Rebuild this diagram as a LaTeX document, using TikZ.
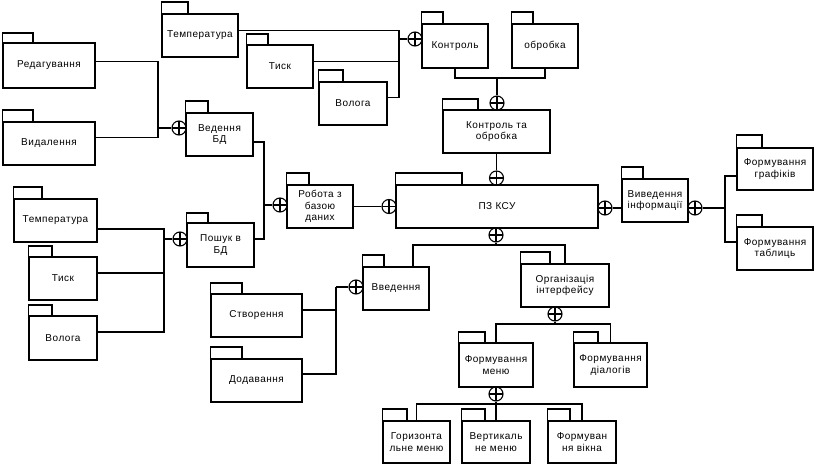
\documentclass[tikz,border=0pt]{standalone}
\usepackage{fontspec}
\setmainfont[LetterSpace=5]{Liberation Sans}
\newcommand\pkgbox[8]{%
  \node[pkg, minimum width={#4-#2}, minimum height={#5-#3}] (#1) at ({(#2+#4)/2},{(#3+#5)/2}) {#8};
  \draw (#1.north west) rectangle (#6,#7);}
\begin{document}
\begin{tikzpicture}[x=1pt,y=-1pt, line width=1.5pt,
  pkg/.style={draw, inner sep=0pt, align=center, font=\fontsize{10}{11.5}\selectfont},
  junc/.style={draw, circle, minimum size=14pt, inner sep=0pt, line width=1.1pt,
    path picture={\draw[line width=1.1pt] (path picture bounding box.north) -- (path picture bounding box.south)
      (path picture bounding box.west) -- (path picture bounding box.east);}}]
\useasboundingbox (0,0) rectangle (814,466);
% packages
\pkgbox{red}{3}{43}{95}{88}{33}{33}{Редагування}
\pkgbox{vyd}{3}{122}{95}{165}{33}{110}{Видалення}
\pkgbox{tempA}{162}{14}{238}{57}{188}{2}{Температура}
\pkgbox{tyskA}{247}{45}{313}{88}{268}{34}{Тиск}
\pkgbox{voloA}{319}{82}{387}{125}{343}{70}{Волога}
\pkgbox{ved}{186}{113}{253}{156}{208}{101}{Ведення\\БД}
\pkgbox{kontr}{422}{24}{488}{68}{443}{12}{Контроль}
\pkgbox{obr}{512}{24}{578}{68}{533}{12}{обробка}
\pkgbox{kto}{443}{110}{550}{153}{478}{99}{Контроль та\\обробка}
\pkgbox{pz}{396}{185}{598}{228}{462}{173}{ПЗ КСУ}
\pkgbox{rob}{287}{185}{353}{228}{309}{173}{Робота з\\базою\\даних}
\pkgbox{posh}{187}{223}{254}{267}{208}{213}{Пошук в\\БД}
\pkgbox{tempB}{14}{199}{97}{242}{42}{187}{Температура}
\pkgbox{tyskB}{29}{257}{97}{300}{52}{246}{Тиск}
\pkgbox{voloB}{29}{316}{97}{360}{52}{305}{Волога}
\pkgbox{vyv}{622}{179}{688}{222}{643}{167}{Виведення\\інформації}
\pkgbox{graf}{737}{148}{813}{190}{762}{135}{Формування\\графіків}
\pkgbox{tabl}{737}{227}{813}{270}{762}{215}{Формування\\таблиць}
\pkgbox{vved}{363}{267}{429}{310}{384}{255}{Введення}
\pkgbox{org}{521}{264}{609}{307}{550}{252}{Організація\\інтерфейсу}
\pkgbox{stv}{211}{294}{302}{337}{242}{283}{Створення}
\pkgbox{dod}{211}{359}{302}{402}{242}{347}{Додавання}
\pkgbox{fmen}{459}{343}{533}{387}{485}{332}{Формування\\меню}
\pkgbox{fdial}{574}{343}{647}{387}{598}{332}{Формування\\діалогів}
\pkgbox{hor}{383}{421}{450}{463}{407}{409}{Горизонта\\льне меню}
\pkgbox{ver}{462}{421}{530}{463}{485}{409}{Вертикаль\\не меню}
\pkgbox{fvik}{548}{421}{616}{463}{570}{409}{Формуван\\ня вікна}
% junctions
\node[junc] (j1) at (179,128) {};
\node[junc] (j2) at (415,39) {};
\node[junc] (j3) at (497,103) {};
\node[junc] (j4) at (496.5,178) {};
\node[junc] (j5) at (389,206.5) {};
\node[junc] (j6) at (280,205) {};
\node[junc] (j7) at (180,239) {};
\node[junc] (j8) at (496,235) {};
\node[junc] (j9) at (356,287) {};
\node[junc] (j10) at (555,314) {};
\node[junc] (j11) at (496,394) {};
\node[junc] (j12) at (605,208) {};
\node[junc] (j13) at (695,208) {};
% bus points
\coordinate (b1) at (158,128);
\coordinate (b2) at (399,39);
\coordinate (b3) at (497,78);
\coordinate (b6) at (264,205);
\coordinate (b7) at (164,239);
\coordinate (b8) at (496,245);
\coordinate (b9) at (336,287);
\coordinate (b10) at (555,324);
\coordinate (b11) at (496,404);
\coordinate (b13) at (725,208);
% wires
\draw ([yshift=4]red.east) -| (b1) -- (j1.west);
\draw ([yshift=6]vyd.east) -| (b1);
\draw ([yshift=5]tempA.east) -| (b2) -- (j2.west);
\draw ([yshift=5]tyskA.east) -| (b2);
\draw ([yshift=6]voloA.east) -| (b2);
\draw (kontr.south) |- (b3) -- (j3.north);
\draw (obr.south) |- (b3);
\draw (kto.south) -- (j4.north);
\draw (rob.east) -- (j5.west);
\draw ([yshift=-7.5]ved.east) -| (b6) -- (j6.west);
\draw ([yshift=6]posh.east) -| (b6);
\draw ([yshift=-8.5]tempB.east) -| (b7) -- (j7.west);
\draw ([yshift=5.5]tyskB.east) -| (b7);
\draw ([yshift=6]voloB.east) -| (b7);
\draw (j8.south) -- (b8);
\draw ([xshift=17]vved.north) |- (b8) -| (org.north);
\draw (b9) -- (j9.west);
\draw ([yshift=5.5]stv.east) -| (b9);
\draw ([yshift=6.5]dod.east) -| (b9);
\draw (j10.south) -- (b10);
\draw (fmen.north) |- (b10) -| (fdial.north);
\draw (j11.south) -- (b11);
\draw (hor.north) |- (b11) -| (fvik.north);
\draw (ver.north) -- (b11);
\draw (j12.east) -- (j12.east -| vyv.west);
\draw (j13.east) -- (b13);
\draw ([yshift=-7]graf.west) -| (b13);
\draw ([yshift=6.5]tabl.west) -| (b13);
\end{tikzpicture}
\end{document}
